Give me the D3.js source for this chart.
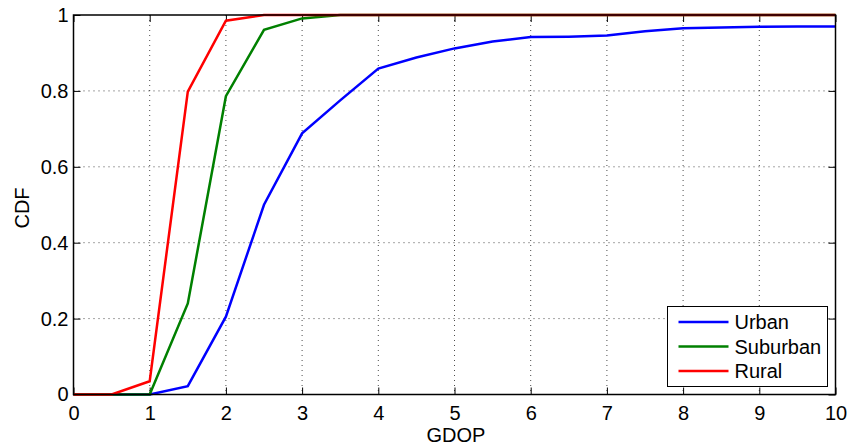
<!DOCTYPE html>
<html>
<head>
<meta charset="utf-8">
<script src="https://cdn.jsdelivr.net/npm/d3@7"></script>
<style>
  html, body { margin: 0; padding: 0; background: #fff; }
  svg { display: block; font-family: "Liberation Sans", Arial, Helvetica, sans-serif; }
</style>
</head>
<body>
<svg id="chart" width="848" height="448"></svg>
<script>
// GDOP sample points shared by all environments
const gdop = [0, 0.5, 1, 1.5, 2, 2.5, 3, 3.5, 4, 4.5, 5, 5.5, 6, 6.5, 7, 7.5, 8, 8.5, 9, 9.5, 10];

// Cumulative distribution of GDOP per environment
const urban    = [0, 0, 0, 0.022, 0.205, 0.5, 0.688, 0.775, 0.859, 0.888, 0.912, 0.93, 0.942, 0.943, 0.946, 0.957, 0.965, 0.967, 0.969, 0.97, 0.97];
const suburban = [0, 0, 0, 0.24, 0.786, 0.961, 0.991, 1, 1, 1, 1, 1, 1, 1, 1, 1, 1, 1, 1, 1, 1];
const rural    = [0, 0, 0.035, 0.798, 0.985, 1, 1, 1, 1, 1, 1, 1, 1, 1, 1, 1, 1, 1, 1, 1, 1];

const seriesNames  = ["Urban", "Suburban", "Rural"];
const seriesValues = [urban, suburban, rural];
const seriesColors = ["#0000ff", "#008000", "#ff0000"];

const xTicks = [0, 1, 2, 3, 4, 5, 6, 7, 8, 9, 10];
const yTicks = [0, 0.2, 0.4, 0.6, 0.8, 1];
const yTickLabels = ["0", "0.2", "0.4", "0.6", "0.8", "1"];

const margin = { left: 73.5, right: 12.5, top: 15, bottom: 53.5 };
const W = 848, H = 448;
const iw = W - margin.left - margin.right;
const ih = H - margin.top - margin.bottom;
const fontSize = "20px";

const svg = d3.select("#chart");
const g = svg.append("g").attr("transform", `translate(${margin.left},${margin.top})`);

const x = d3.scaleLinear().domain([0, 10]).range([0, iw]);
const y = d3.scaleLinear().domain([0, 1]).range([ih, 0]);

// dotted grid
const grid = g.append("g");
grid.selectAll("line.gx").data(xTicks.slice(1, -1)).join("line")
  .attr("x1", d => x(d)).attr("x2", d => x(d)).attr("y1", 0).attr("y2", ih)
  .attr("stroke", "#000").attr("stroke-width", 1).attr("stroke-dasharray", "1,4").attr("opacity", 0.7);
grid.selectAll("line.gy").data(yTicks.slice(1, -1)).join("line")
  .attr("x1", 0).attr("x2", iw).attr("y1", d => y(d)).attr("y2", d => y(d))
  .attr("stroke", "#000").attr("stroke-width", 1).attr("stroke-dasharray", "1,4").attr("opacity", 0.7);

// axes with inward ticks on all four sides
const tickLen = 7;
const xAxis = d3.axisBottom(x).tickValues(xTicks).tickSizeInner(-tickLen).tickSizeOuter(0).tickPadding(11);
const yAxis = d3.axisLeft(y).tickValues(yTicks).tickFormat((d, i) => yTickLabels[i]).tickSizeInner(-tickLen).tickSizeOuter(0).tickPadding(5);
const xTop = d3.axisTop(x).tickValues(xTicks).tickSizeInner(-tickLen).tickSizeOuter(0).tickFormat("");
const yRight = d3.axisRight(y).tickValues(yTicks).tickSizeInner(-tickLen).tickSizeOuter(0).tickFormat("");

function styleAxis(sel) {
  sel.select(".domain").remove();
  sel.selectAll(".tick line").attr("stroke", "#000").attr("stroke-width", 1);
  sel.selectAll(".tick text").attr("fill", "#000").style("font-size", fontSize);
}
g.append("g").attr("transform", `translate(0,${ih})`).call(xAxis).call(styleAxis);
g.append("g").call(yAxis).call(styleAxis);
g.append("g").call(xTop).call(styleAxis);
g.append("g").attr("transform", `translate(${iw},0)`).call(yRight).call(styleAxis);

// series lines
const line = d3.line().x((d, i) => x(gdop[i])).y(d => y(d));
g.append("g").selectAll("path").data(seriesValues).join("path")
  .attr("d", d => line(d))
  .attr("fill", "none")
  .attr("stroke", (d, i) => seriesColors[i])
  .attr("stroke-width", 2.5)
  .attr("stroke-linejoin", "miter");

// plot box
g.append("rect").attr("x", 0).attr("y", 0).attr("width", iw).attr("height", ih)
  .attr("fill", "none").attr("stroke", "#000").attr("stroke-width", 1.5);

// axis titles
svg.append("text").attr("x", 456).attr("y", 442)
  .attr("text-anchor", "middle").style("font-size", fontSize).text("GDOP");
svg.append("text").attr("transform", "translate(28.5,208) rotate(-90)")
  .attr("text-anchor", "middle").style("font-size", fontSize).text("CDF");

// legend
const lg = svg.append("g").attr("transform", "translate(667.5,306.5)");
lg.append("rect").attr("width", 160).attr("height", 80).attr("fill", "#fff").attr("stroke", "#000").attr("stroke-width", 1);
seriesNames.forEach((name, i) => {
  const yy = 15.5 + i * 24.5;
  lg.append("line").attr("x1", 11).attr("x2", 61).attr("y1", yy).attr("y2", yy)
    .attr("stroke", seriesColors[i]).attr("stroke-width", 2.5);
  lg.append("text").attr("x", 67).attr("y", yy + 7).style("font-size", fontSize).text(name);
});
</script>
</body>
</html>
